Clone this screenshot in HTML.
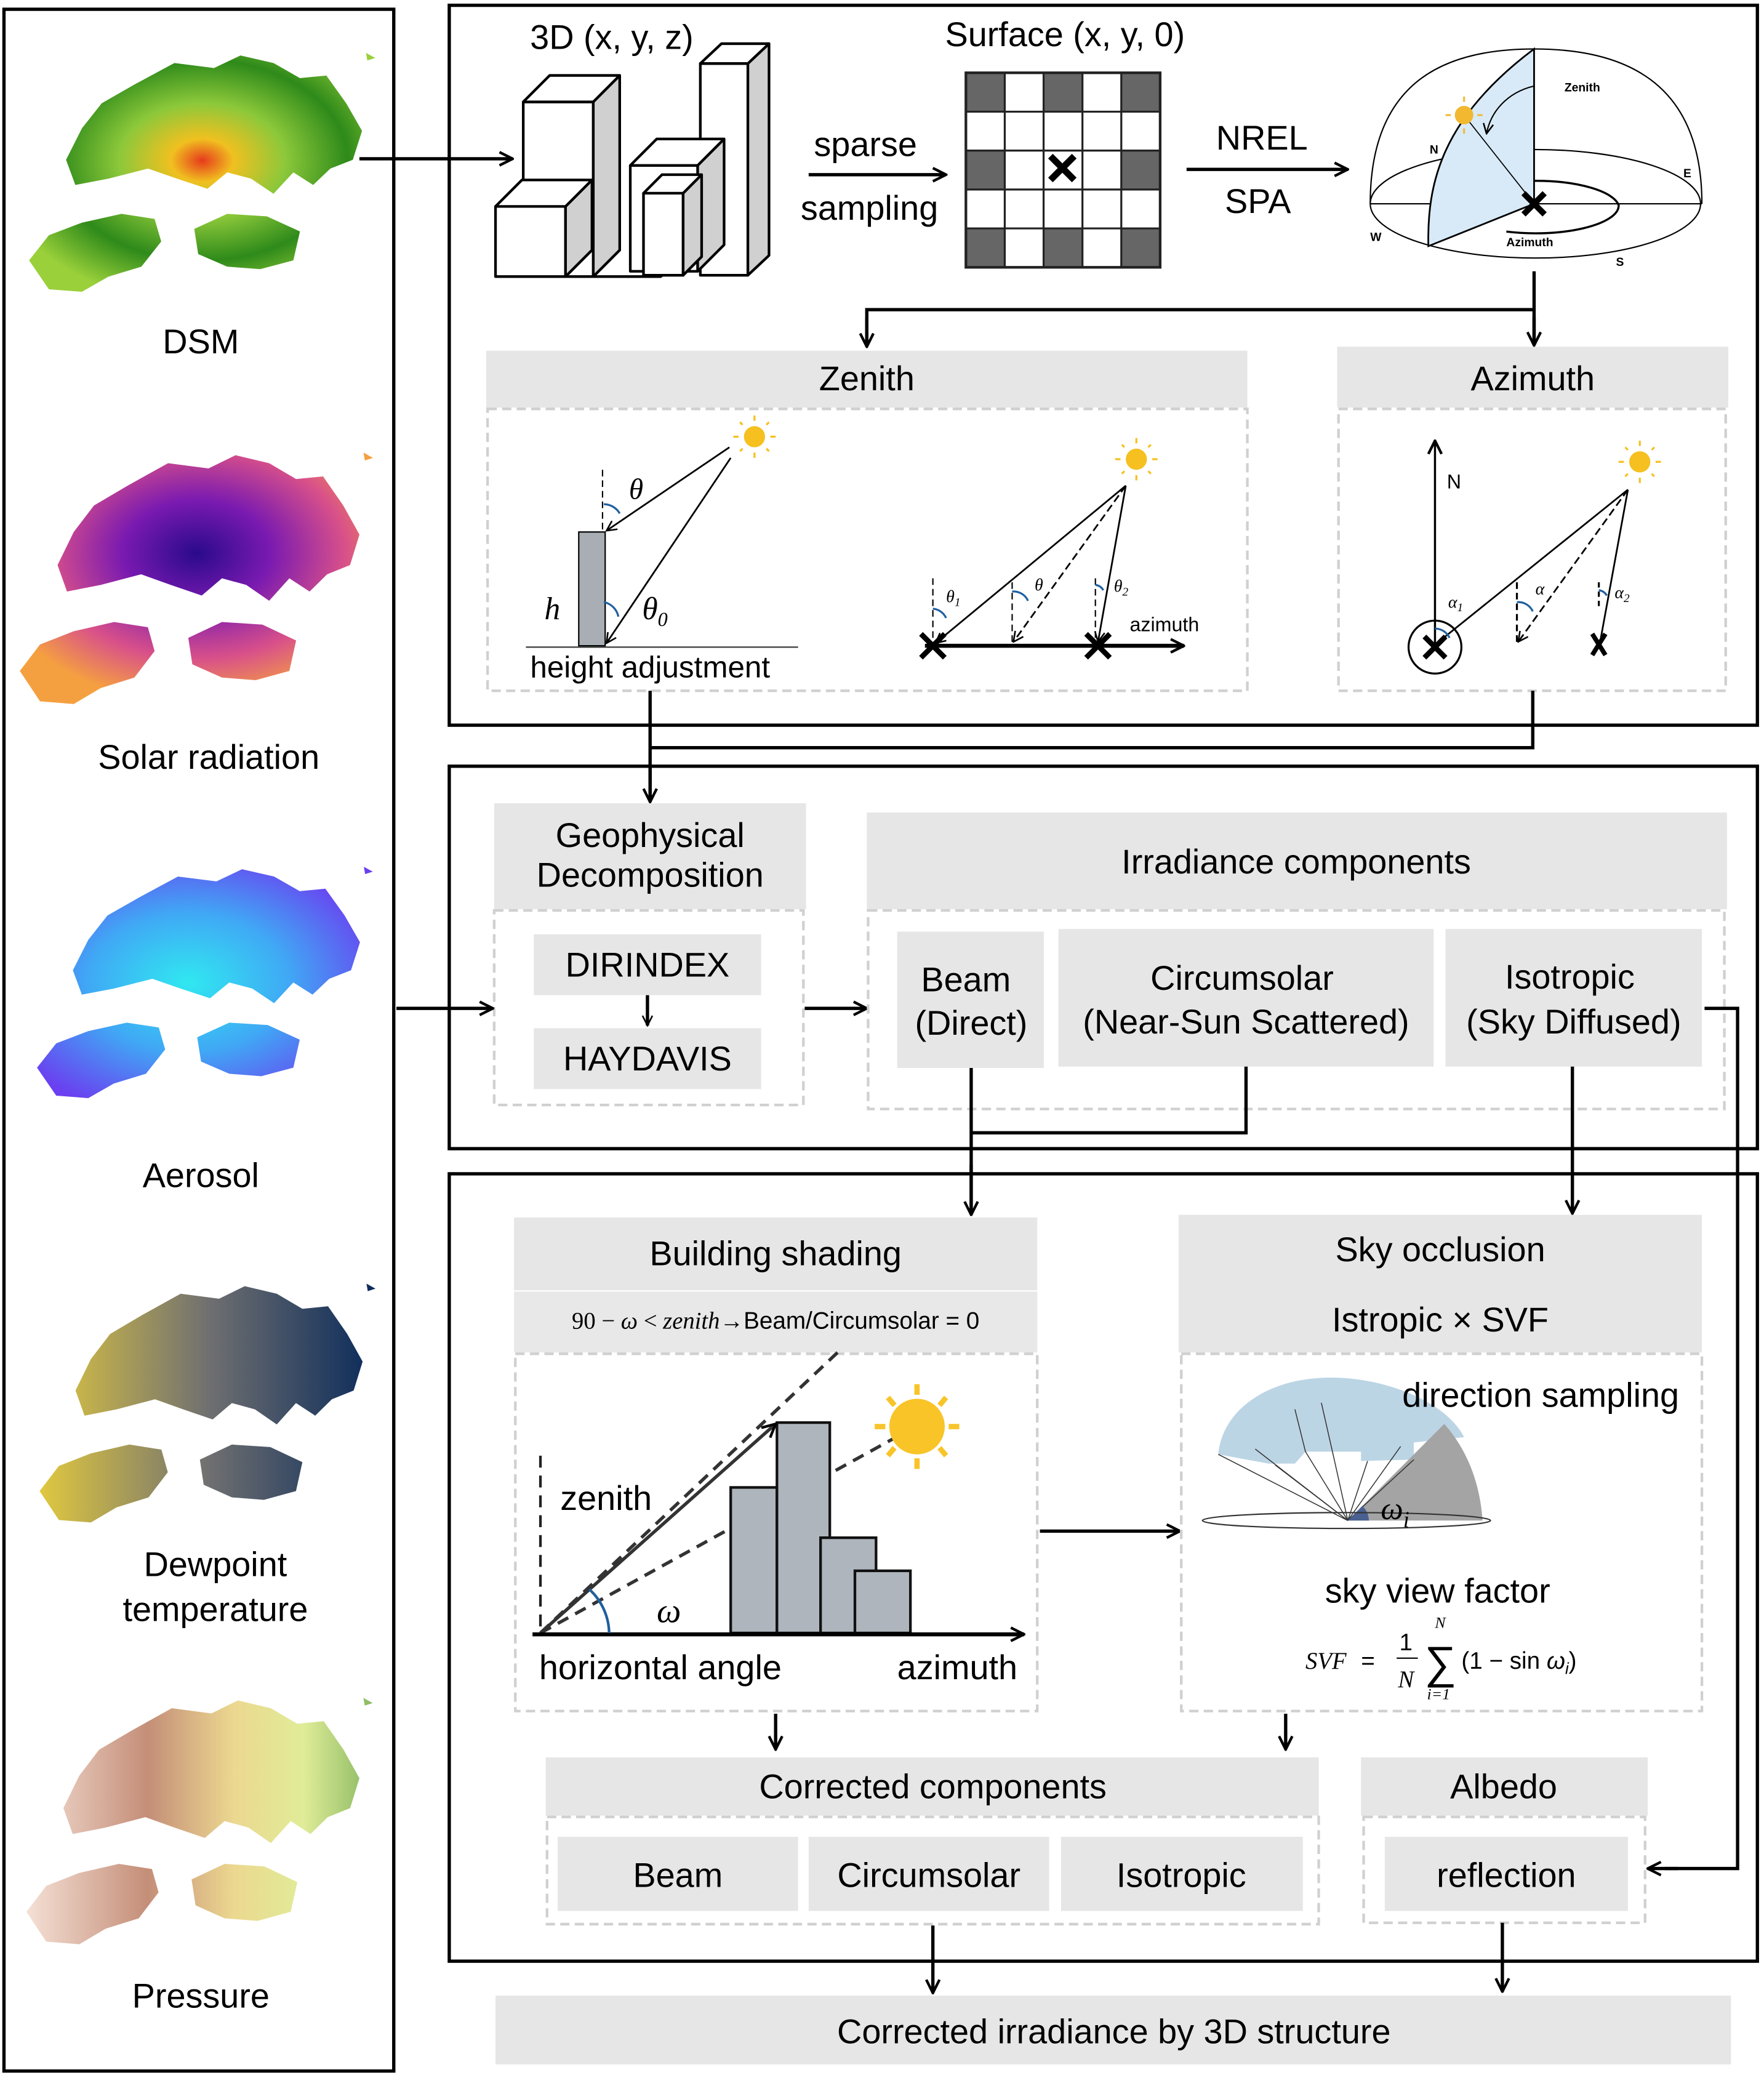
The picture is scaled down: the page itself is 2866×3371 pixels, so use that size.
<!DOCTYPE html>
<html><head><meta charset="utf-8"><style>
html,body{margin:0;padding:0;background:#fff;}
svg{display:block;}
text{font-family:"Liberation Sans",Arial,sans-serif;fill:#000;}
.s{font-family:"Liberation Serif",serif;font-style:italic;}
</style></head><body>
<svg width="2866" height="3371" viewBox="0 0 1335 1568" preserveAspectRatio="none" xmlns="http://www.w3.org/2000/svg">
<defs>
<marker id="a" viewBox="0 0 12 12" refX="11" refY="6" markerWidth="12" markerHeight="12" markerUnits="userSpaceOnUse" orient="auto"><path d="M1,1 L11,6 L1,11" fill="none" stroke="#000" stroke-width="2"/></marker>
<marker id="as" viewBox="0 0 12 12" refX="11" refY="6" markerWidth="9" markerHeight="9" markerUnits="userSpaceOnUse" orient="auto"><path d="M1,1 L11,6 L1,11" fill="none" stroke="#000" stroke-width="1.6"/></marker>
<path id="hk" d="M55,40 L80,25 L110,8 L140,12 L160,2 L185,8 L205,20 L225,18 L240,40 L252,62 L245,85 L228,92 L215,105 L200,95 L185,112 L168,100 L150,95 L135,108 L112,100 L90,92 L60,100 L35,105 L28,85 L40,60 Z M0,165 L15,145 L40,135 L70,128 L95,132 L100,150 L85,170 L60,178 L40,190 L15,188 Z M125,140 L150,128 L180,130 L205,142 L200,165 L175,172 L150,170 L128,160 Z M255,0 L262,4 L256,6 Z"/>
<radialGradient id="gDSM" cx="0.5" cy="0.45" r="0.6"><stop offset="0" stop-color="#e63b1c"/><stop offset="0.15" stop-color="#f0c020"/><stop offset="0.4" stop-color="#8cc83a"/><stop offset="0.7" stop-color="#2e8a1a"/><stop offset="1" stop-color="#9ad03a"/></radialGradient>
<radialGradient id="gSol" cx="0.5" cy="0.4" r="0.6"><stop offset="0" stop-color="#2a0a8a"/><stop offset="0.35" stop-color="#7a1ab0"/><stop offset="0.7" stop-color="#d8508a"/><stop offset="1" stop-color="#f5a040"/></radialGradient>
<radialGradient id="gAer" cx="0.45" cy="0.5" r="0.6"><stop offset="0" stop-color="#30e8f0"/><stop offset="0.5" stop-color="#40a8f5"/><stop offset="1" stop-color="#6a40f0"/></radialGradient>
<linearGradient id="gDew" x1="0" x2="1" y1="0" y2="0"><stop offset="0" stop-color="#e0c840"/><stop offset="0.5" stop-color="#707070"/><stop offset="1" stop-color="#0a2a5a"/></linearGradient>
<linearGradient id="gPre" x1="0" x2="1" y1="0" y2="0"><stop offset="0" stop-color="#f5e0d5"/><stop offset="0.35" stop-color="#c48e78"/><stop offset="0.6" stop-color="#ecd890"/><stop offset="0.8" stop-color="#e0ec98"/><stop offset="1" stop-color="#88b860"/></linearGradient>
</defs>

<!-- Left panel -->
<rect x="3" y="7" width="295" height="1558" fill="none" stroke="#000" stroke-width="2.5"/>
<use href="#hk" fill="url(#gDSM)" transform="translate(22,40) scale(1,0.95)"/>
<text x="152" y="267" font-size="26" text-anchor="middle">DSM</text>
<use href="#hk" fill="url(#gSol)" transform="translate(15,342) scale(1.02,1.0)"/>
<text x="158" y="581" font-size="26" text-anchor="middle">Solar radiation</text>
<use href="#hk" fill="url(#gAer)" transform="translate(28,655) scale(0.97,0.92)"/>
<text x="152" y="897" font-size="26" text-anchor="middle">Aerosol</text>
<use href="#hk" fill="url(#gDew)" transform="translate(30,970) scale(0.97,0.95)"/>
<text x="163" y="1191" font-size="26" text-anchor="middle">Dewpoint</text>
<text x="163" y="1225" font-size="26" text-anchor="middle">temperature</text>
<use href="#hk" fill="url(#gPre)" transform="translate(20,1283) scale(1.0,0.98)"/>
<text x="152" y="1517" font-size="26" text-anchor="middle">Pressure</text>

<!-- Top box -->
<rect x="340" y="4" width="990" height="544" fill="none" stroke="#000" stroke-width="2.5"/>
<line x1="272" y1="120" x2="388" y2="120" stroke="#000" stroke-width="2.5" marker-end="url(#a)"/>
<text x="463" y="37" font-size="26" text-anchor="middle">3D (x, y, z)</text>
<!-- buildings -->
<g stroke="#000" stroke-width="2" stroke-linejoin="round">
<path d="M428,209 L500,209 L580,150 L566,159" fill="none"/>
<rect x="530" y="48" width="36" height="160" fill="#fff"/><polygon points="566,48 582,33 582,193 566,208" fill="#d0d0d0"/><polygon points="530,48 546,33 582,33 566,48" fill="#fff"/>
<rect x="396" y="77" width="53" height="132" fill="#fff"/><polygon points="449,77 469,57 469,189 449,209" fill="#d0d0d0"/><polygon points="396,77 416,57 469,57 449,77" fill="#fff"/>
<rect x="477" y="125" width="51" height="80" fill="#fff"/><polygon points="528,125 548,105 548,185 528,205" fill="#d0d0d0"/><polygon points="477,125 497,105 548,105 528,125" fill="#fff"/>
<rect x="487" y="146" width="30" height="62" fill="#fff"/><polygon points="517,146 531,132 531,194 517,208" fill="#d0d0d0"/><polygon points="487,146 501,132 531,132 517,146" fill="#fff"/>
<rect x="375" y="156" width="53" height="53" fill="#fff"/><polygon points="428,156 448,136 448,189 428,209" fill="#d0d0d0"/><polygon points="375,156 395,136 448,136 428,156" fill="#fff"/>
</g>
<text x="655" y="118" font-size="26" text-anchor="middle">sparse</text>
<line x1="612" y1="132" x2="716" y2="132" stroke="#000" stroke-width="2.5" marker-end="url(#a)"/>
<text x="658" y="166" font-size="26" text-anchor="middle">sampling</text>
<text x="806" y="35" font-size="26" text-anchor="middle">Surface (x, y, 0)</text>
<!-- grid -->
<g>
<rect x="731" y="55" width="147" height="147" fill="#fff"/>
<g fill="#666">
<rect x="731" y="55" width="29.4" height="29.4"/><rect x="789.8" y="55" width="29.4" height="29.4"/><rect x="848.6" y="55" width="29.4" height="29.4"/>
<rect x="731" y="113.8" width="29.4" height="29.4"/><rect x="848.6" y="113.8" width="29.4" height="29.4"/>
<rect x="731" y="172.6" width="29.4" height="29.4"/><rect x="789.8" y="172.6" width="29.4" height="29.4"/><rect x="848.6" y="172.6" width="29.4" height="29.4"/>
</g>
<g stroke="#222" stroke-width="1.5">
<line x1="731" y1="84.4" x2="878" y2="84.4"/><line x1="731" y1="113.8" x2="878" y2="113.8"/><line x1="731" y1="143.2" x2="878" y2="143.2"/><line x1="731" y1="172.6" x2="878" y2="172.6"/>
<line x1="760.4" y1="55" x2="760.4" y2="202"/><line x1="789.8" y1="55" x2="789.8" y2="202"/><line x1="819.2" y1="55" x2="819.2" y2="202"/><line x1="848.6" y1="55" x2="848.6" y2="202"/>
</g>
<rect x="731" y="55" width="147" height="147" fill="none" stroke="#222" stroke-width="2"/>
<path d="M795,118 L813,136 M813,118 L795,136" stroke="#000" stroke-width="5"/>
</g>
<text x="955" y="113" font-size="26" text-anchor="middle">NREL</text>
<line x1="898" y1="128" x2="1020" y2="128" stroke="#000" stroke-width="2.5" marker-end="url(#a)"/>
<text x="952" y="161" font-size="26" text-anchor="middle">SPA</text>
<!-- hemisphere -->
<g fill="none" stroke="#000" stroke-width="1">
<path d="M1037,154 C1037,60 1095,37 1161,37 C1227,37 1288,60 1288,154"/>
<ellipse cx="1162" cy="154" rx="125" ry="41"/>
<line x1="1037" y1="154" x2="1288" y2="154"/>
<path d="M1100,155 A63,21 0 0 1 1225,155 A63,21 0 0 1 1140,175" stroke-width="1.6"/>
</g>
<path d="M1161,37 L1161,154 L1081,186 C1080,140 1090,90 1161,37 Z" fill="#d8eaf7" stroke="#000" stroke-width="1.3"/>
<line x1="1108" y1="87" x2="1161" y2="154" stroke="#000" stroke-width="0.8"/>
<path d="M1161,65 C1140,70 1128,85 1125,101" fill="none" stroke="#000" stroke-width="1" marker-end="url(#as)"/>
<circle cx="1108" cy="87" r="7" fill="#f2b830"/>
<g stroke="#f2b830" stroke-width="1.4"><line x1="1108" y1="73" x2="1108" y2="77"/><line x1="1108" y1="97" x2="1108" y2="101"/><line x1="1094" y1="87" x2="1098" y2="87"/><line x1="1118" y1="87" x2="1122" y2="87"/></g>
<path d="M1153,146 L1169,162 M1169,146 L1153,162" stroke="#000" stroke-width="4.5"/>
<text x="1184" y="69" font-size="9" font-weight="bold">Zenith</text>
<text x="1082" y="116" font-size="9" font-weight="bold">N</text>
<text x="1274" y="134" font-size="9" font-weight="bold">E</text>
<text x="1037" y="182" font-size="9" font-weight="bold">W</text>
<text x="1223" y="201" font-size="9" font-weight="bold">S</text>
<text x="1140" y="186" font-size="9" font-weight="bold">Azimuth</text>

<!-- split connector -->
<path d="M1161,205 L1161,260 M1161,234 L656,234 L656,260" fill="none" stroke="#000" stroke-width="2.5"/>
<line x1="656" y1="240" x2="656" y2="262" stroke="#000" stroke-width="2.5" marker-end="url(#a)"/>
<line x1="1161" y1="240" x2="1161" y2="261" stroke="#000" stroke-width="2.5" marker-end="url(#a)"/>

<!-- Zenith panel -->
<rect x="368" y="265" width="576" height="43" fill="#e6e6e6"/>
<text x="656" y="295" font-size="26" text-anchor="middle">Zenith</text>
<rect x="369" y="309" width="575" height="213" fill="none" stroke="#d0d0d0" stroke-width="2" stroke-dasharray="7,4"/>
<line x1="456" y1="355" x2="456" y2="402" stroke="#000" stroke-width="1" stroke-dasharray="5,3"/>
<rect x="438" y="402" width="20" height="86" fill="#a8aeb4" stroke="#000" stroke-width="1"/>
<line x1="552" y1="338" x2="459" y2="401" stroke="#000" stroke-width="1.3" marker-end="url(#as)"/>
<line x1="553" y1="346" x2="459" y2="486" stroke="#000" stroke-width="1.3" marker-end="url(#as)"/>
<path d="M457,381 A14,14 0 0 1 469,388" fill="none" stroke="#2060a0" stroke-width="1.5"/>
<path d="M457,455 A14,14 0 0 1 468,466" fill="none" stroke="#2060a0" stroke-width="1.5"/>
<line x1="398" y1="489" x2="604" y2="489" stroke="#333" stroke-width="1"/>
<text class="s" x="476" y="377" font-size="22">θ</text>
<text class="s" x="412" y="468" font-size="24">h</text>
<text class="s" x="486" y="468" font-size="24">θ<tspan font-size="15" dy="5">0</tspan></text>
<text x="492" y="512" font-size="23" text-anchor="middle">height adjustment</text>
<g id="sun1"><circle cx="571" cy="330" r="8" fill="#f5c020"/><g stroke="#f5c020" stroke-width="1.5"><line x1="571" y1="314" x2="571" y2="318"/><line x1="571" y1="342" x2="571" y2="346"/><line x1="555" y1="330" x2="559" y2="330"/><line x1="583" y1="330" x2="587" y2="330"/><line x1="560" y1="319" x2="562" y2="321"/><line x1="580" y1="339" x2="582" y2="341"/><line x1="582" y1="319" x2="580" y2="321"/><line x1="560" y1="341" x2="562" y2="339"/></g></g>
<use href="#sun1" transform="translate(289,17)"/>
<line x1="700" y1="488" x2="896" y2="488" stroke="#000" stroke-width="3" marker-end="url(#a)"/>
<line x1="852" y1="367" x2="708" y2="486" stroke="#000" stroke-width="1.3" marker-end="url(#as)"/>
<line x1="852" y1="367" x2="767" y2="485" stroke="#000" stroke-width="1.3" stroke-dasharray="6,3" marker-end="url(#as)"/>
<line x1="852" y1="367" x2="831" y2="485" stroke="#000" stroke-width="1.3" marker-end="url(#as)"/>
<g stroke="#000" stroke-width="1" stroke-dasharray="5,3"><line x1="706" y1="437" x2="706" y2="486"/><line x1="766" y1="440" x2="766" y2="486"/><line x1="829" y1="437" x2="829" y2="486"/></g>
<g fill="none" stroke="#2060a0" stroke-width="1.5"><path d="M706,460 A12,12 0 0 1 716,467"/><path d="M766,447 A12,12 0 0 1 778,454"/><path d="M829,442 A8,8 0 0 1 835,446"/></g>
<text class="s" x="716" y="455" font-size="13">θ<tspan font-size="9" dy="3">1</tspan></text>
<text class="s" x="783" y="446" font-size="13">θ</text>
<text class="s" x="843" y="447" font-size="13">θ<tspan font-size="9" dy="3">2</tspan></text>
<text x="855" y="477" font-size="15">azimuth</text>
<g stroke="#000" stroke-width="4"><path d="M697,479 L715,497 M715,479 L697,497"/><path d="M822,479 L840,497 M840,479 L822,497"/></g>

<!-- Azimuth panel -->
<rect x="1012" y="262" width="296" height="46" fill="#e6e6e6"/>
<text x="1160" y="295" font-size="26" text-anchor="middle">Azimuth</text>
<rect x="1013" y="309" width="293" height="213" fill="none" stroke="#d0d0d0" stroke-width="2" stroke-dasharray="7,4"/>
<line x1="1086" y1="490" x2="1086" y2="333" stroke="#000" stroke-width="1.6" marker-end="url(#a)"/>
<text x="1095" y="369" font-size="15">N</text>
<circle cx="1086" cy="489" r="20" fill="none" stroke="#000" stroke-width="1.5"/>
<path d="M1078,481 L1094,497 M1094,481 L1078,497" stroke="#000" stroke-width="4"/>
<path d="M1210,479 L1220,495 M1220,479 L1210,495" stroke="#000" stroke-width="3.5" transform="translate(-5,0)"/>
<use href="#sun1" transform="translate(670,19)"/>
<line x1="1232" y1="370" x2="1090" y2="484" stroke="#000" stroke-width="1.3"/>
<line x1="1232" y1="370" x2="1149" y2="485" stroke="#000" stroke-width="1.3" stroke-dasharray="6,3" marker-end="url(#as)"/>
<line x1="1232" y1="370" x2="1211" y2="485" stroke="#000" stroke-width="1.3"/>
<line x1="1148" y1="440" x2="1148" y2="487" stroke="#000" stroke-width="1.5" stroke-dasharray="5,3"/>
<line x1="1210" y1="440" x2="1210" y2="458" stroke="#000" stroke-width="1.5" stroke-dasharray="4,3"/>
<g fill="none" stroke="#2060a0" stroke-width="1.5"><path d="M1086,475 A12,12 0 0 1 1097,482"/><path d="M1148,455 A12,12 0 0 1 1160,462"/><path d="M1210,446 A8,8 0 0 1 1216,450"/></g>
<text class="s" x="1096" y="459" font-size="13">α<tspan font-size="9" dy="3">1</tspan></text>
<text class="s" x="1162" y="449" font-size="13">α</text>
<text class="s" x="1222" y="452" font-size="13">α<tspan font-size="9" dy="3">2</tspan></text>

<!-- top -> middle connector -->
<path d="M492,522 L492,604 M1160,522 L1160,565 L492,565" fill="none" stroke="#000" stroke-width="2.5"/>
<line x1="492" y1="580" x2="492" y2="606" stroke="#000" stroke-width="2.5" marker-end="url(#a)"/>

<!-- Middle box -->
<rect x="340" y="579" width="990" height="289" fill="none" stroke="#000" stroke-width="2.5"/>
<rect x="374" y="607" width="236" height="80" fill="#e6e6e6"/>
<text x="492" y="640" font-size="26" text-anchor="middle">Geophysical</text>
<text x="492" y="670" font-size="26" text-anchor="middle">Decomposition</text>
<rect x="374" y="688" width="234" height="147" fill="none" stroke="#d0d0d0" stroke-width="2" stroke-dasharray="7,4"/>
<rect x="404" y="706" width="172" height="46" fill="#e6e6e6"/>
<text x="490" y="738" font-size="26" text-anchor="middle">DIRINDEX</text>
<line x1="490" y1="752" x2="490" y2="775" stroke="#000" stroke-width="2.5" marker-end="url(#as)"/>
<rect x="404" y="777" width="172" height="46" fill="#e6e6e6"/>
<text x="490" y="809" font-size="26" text-anchor="middle">HAYDAVIS</text>
<line x1="300" y1="762" x2="373" y2="762" stroke="#000" stroke-width="2.5" marker-end="url(#a)"/>
<line x1="609" y1="762" x2="656" y2="762" stroke="#000" stroke-width="2.5" marker-end="url(#a)"/>
<rect x="656" y="614" width="651" height="73" fill="#e6e6e6"/>
<text x="981" y="660" font-size="26" text-anchor="middle">Irradiance components</text>
<rect x="657" y="688" width="648" height="150" fill="none" stroke="#d0d0d0" stroke-width="2" stroke-dasharray="7,4"/>
<rect x="679" y="704" width="111" height="103" fill="#e6e6e6"/>
<text x="731" y="749" font-size="26" text-anchor="middle">Beam</text>
<text x="735" y="782" font-size="26" text-anchor="middle">(Direct)</text>
<rect x="801" y="702" width="284" height="104" fill="#e6e6e6"/>
<text x="940" y="748" font-size="26" text-anchor="middle">Circumsolar</text>
<text x="943" y="781" font-size="26" text-anchor="middle">(Near-Sun Scattered)</text>
<rect x="1094" y="702" width="194" height="104" fill="#e6e6e6"/>
<text x="1188" y="747" font-size="26" text-anchor="middle">Isotropic</text>
<text x="1191" y="781" font-size="26" text-anchor="middle">(Sky Diffused)</text>
<path d="M735,807 L735,912 M943,806 L943,856 L735,856" fill="none" stroke="#000" stroke-width="2.5"/>
<line x1="735" y1="880" x2="735" y2="918" stroke="#000" stroke-width="2.5" marker-end="url(#a)"/>
<line x1="1190" y1="806" x2="1190" y2="917" stroke="#000" stroke-width="2.5" marker-end="url(#a)"/>
<path d="M1290,762 L1315,762 L1315,1412 L1260,1412" fill="none" stroke="#000" stroke-width="2.5"/>
<line x1="1270" y1="1412" x2="1247" y2="1412" stroke="#000" stroke-width="2.5" marker-end="url(#a)"/>

<!-- Bottom box -->
<rect x="340" y="887" width="990" height="595" fill="none" stroke="#000" stroke-width="2.5"/>
<rect x="389" y="920" width="396" height="55" fill="#e6e6e6"/>
<text x="587" y="956" font-size="26" text-anchor="middle">Building shading</text>
<rect x="389" y="976" width="396" height="46" fill="#e8e8e8"/>
<text x="587" y="1004" font-size="18" text-anchor="middle"><tspan font-family="Liberation Serif">90 − <tspan font-style="italic">ω</tspan> &lt; <tspan font-style="italic">zenith</tspan></tspan>→Beam/Circumsolar = 0</text>
<rect x="390" y="1023" width="395" height="270" fill="none" stroke="#d0d0d0" stroke-width="2" stroke-dasharray="7,4"/>
<line x1="409" y1="1100" x2="409" y2="1234" stroke="#222" stroke-width="2" stroke-dasharray="9,6"/>
<line x1="409" y1="1234" x2="636" y2="1020" stroke="#333" stroke-width="2.5" stroke-dasharray="9,6"/>
<line x1="409" y1="1234" x2="680" y2="1085" stroke="#333" stroke-width="2.5" stroke-dasharray="9,6"/>
<g fill="#aeb5bd" stroke="#111" stroke-width="2">
<rect x="553" y="1124" width="35" height="110"/><rect x="588" y="1075" width="40" height="159"/><rect x="621" y="1162" width="42" height="72"/><rect x="647" y="1187" width="42" height="47"/>
</g>
<line x1="409" y1="1234" x2="587" y2="1076" stroke="#333" stroke-width="2.5" marker-end="url(#a)"/>
<line x1="403" y1="1235" x2="775" y2="1235" stroke="#000" stroke-width="3" marker-end="url(#a)"/>
<path d="M446,1201 A46,46 0 0 1 461,1234" fill="none" stroke="#1f5f9f" stroke-width="2"/>
<circle cx="694" cy="1078" r="21" fill="#f8c428"/>
<g stroke="#f8c428" stroke-width="4"><line x1="694" y1="1046" x2="694" y2="1054"/><line x1="694" y1="1102" x2="694" y2="1110"/><line x1="662" y1="1078" x2="670" y2="1078"/><line x1="718" y1="1078" x2="726" y2="1078"/><line x1="672" y1="1056" x2="677" y2="1062"/><line x1="711" y1="1094" x2="716" y2="1100"/><line x1="716" y1="1056" x2="711" y2="1062"/><line x1="672" y1="1100" x2="677" y2="1094"/></g>
<text x="424" y="1141" font-size="26">zenith</text>
<text class="s" x="497" y="1226" font-size="26">ω</text>
<text x="408" y="1269" font-size="26">horizontal angle</text>
<text x="679" y="1269" font-size="26">azimuth</text>
<line x1="787" y1="1157" x2="893" y2="1157" stroke="#000" stroke-width="2.5" marker-end="url(#a)"/>

<rect x="892" y="918" width="396" height="104" fill="#e6e6e6"/>
<text x="1090" y="953" font-size="26" text-anchor="middle">Sky occlusion</text>
<text x="1090" y="1006" font-size="26" text-anchor="middle">Istropic  × SVF</text>
<rect x="894" y="1023" width="394" height="270" fill="none" stroke="#d0d0d0" stroke-width="2" stroke-dasharray="7,4"/>
<path d="M922,1099 C925,1065 960,1041 1007,1041 C1050,1041 1095,1060 1108,1086 L1070,1090 L1070,1103 L1030,1104 L1030,1097 L988,1097 L980,1106 L960,1106 L922,1099 Z" fill="#b5d0e2" opacity="0.9"/>
<path d="M1020,1149 L1093,1076 C1110,1095 1120,1120 1122,1149 Z" fill="#a4a4a4"/>
<g stroke="#333" stroke-width="0.7">
<line x1="1020" y1="1149" x2="922" y2="1099"/><line x1="1020" y1="1149" x2="950" y2="1095"/><line x1="1020" y1="1149" x2="965" y2="1107"/><line x1="1020" y1="1149" x2="988" y2="1097"/><line x1="1020" y1="1149" x2="1010" y2="1104"/><line x1="1020" y1="1149" x2="1035" y2="1104"/><line x1="1020" y1="1149" x2="1060" y2="1093"/><line x1="1020" y1="1149" x2="1070" y2="1103"/>
<line x1="1000" y1="1060" x2="1010" y2="1104"/><line x1="980" y1="1065" x2="988" y2="1097"/>
</g>
<path d="M1020,1149 L1031,1138 A16,16 0 0 1 1036,1149 Z" fill="#4a6090"/>
<ellipse cx="1019" cy="1149" rx="109" ry="6" fill="none" stroke="#333" stroke-width="1"/>
<text class="s" x="1045" y="1148" font-size="24">ω<tspan font-size="17" dy="6">i</tspan></text>
<text x="1166" y="1063" font-size="26" text-anchor="middle">direction sampling</text>
<text x="1088" y="1211" font-size="26" text-anchor="middle">sky view factor</text>
<g font-family="Liberation Serif" font-size="18">
<text class="s" x="988" y="1261">SVF</text><text x="1030" y="1261">=</text>
<text x="1059" y="1247">1</text><line x1="1057" y1="1253" x2="1073" y2="1253" stroke="#000" stroke-width="1"/><text class="s" x="1058" y="1275">N</text>
<text x="1078" y="1268" font-size="34">∑</text><text class="s" x="1086" y="1230" font-size="12">N</text><text class="s" x="1080" y="1284" font-size="12">i=1</text>
<text x="1106" y="1261">(1 − sin <tspan font-style="italic">ω<tspan font-size="12" dy="4">i</tspan></tspan><tspan dy="-4">)</tspan></text>
</g>
<line x1="587" y1="1295" x2="587" y2="1322" stroke="#000" stroke-width="2.5" marker-end="url(#a)"/>
<line x1="973" y1="1295" x2="973" y2="1322" stroke="#000" stroke-width="2.5" marker-end="url(#a)"/>

<rect x="413" y="1328" width="585" height="44" fill="#e6e6e6"/>
<text x="706" y="1359" font-size="26" text-anchor="middle">Corrected components</text>
<rect x="414" y="1373" width="584" height="81" fill="none" stroke="#d0d0d0" stroke-width="2" stroke-dasharray="7,4"/>
<rect x="422" y="1388" width="182" height="56" fill="#e6e6e6"/><text x="513" y="1426" font-size="26" text-anchor="middle">Beam</text>
<rect x="612" y="1388" width="182" height="56" fill="#e6e6e6"/><text x="703" y="1426" font-size="26" text-anchor="middle">Circumsolar</text>
<rect x="803" y="1388" width="183" height="56" fill="#e6e6e6"/><text x="894" y="1426" font-size="26" text-anchor="middle">Isotropic</text>
<rect x="1030" y="1328" width="217" height="44" fill="#e6e6e6"/>
<text x="1138" y="1359" font-size="26" text-anchor="middle">Albedo</text>
<rect x="1032" y="1373" width="213" height="80" fill="none" stroke="#d0d0d0" stroke-width="2" stroke-dasharray="7,4"/>
<rect x="1048" y="1388" width="184" height="56" fill="#e6e6e6"/><text x="1140" y="1426" font-size="26" text-anchor="middle">reflection</text>
<line x1="706" y1="1455" x2="706" y2="1506" stroke="#000" stroke-width="2.5" marker-end="url(#a)"/>
<line x1="1137" y1="1453" x2="1137" y2="1505" stroke="#000" stroke-width="2.5" marker-end="url(#a)"/>

<rect x="375" y="1508" width="935" height="52" fill="#e6e6e6"/>
<text x="843" y="1544" font-size="26" text-anchor="middle">Corrected irradiance by 3D structure</text>
</svg>
</body></html>
